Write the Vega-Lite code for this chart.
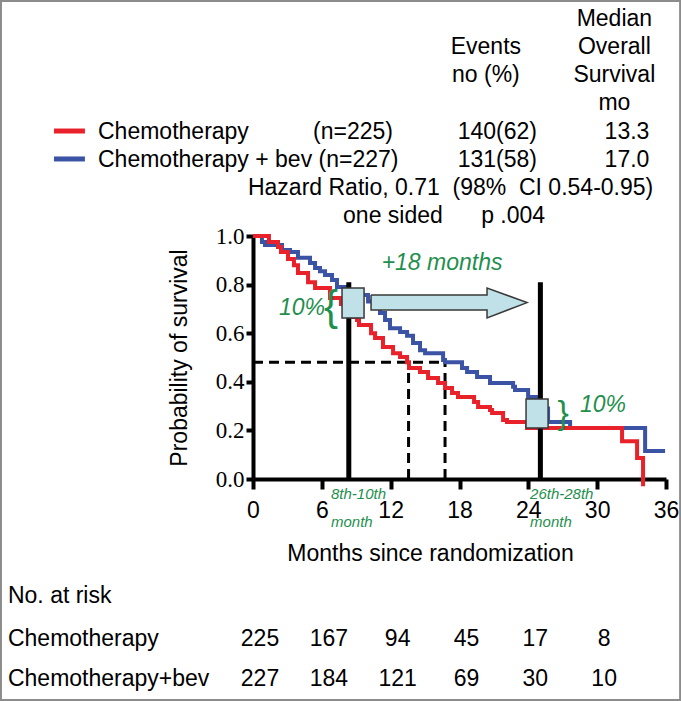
{
  "$schema": "https://vega.github.io/schema/vega-lite/v6.json",
  "width": 413,
  "height": 243,
  "autosize": {"type": "none"},
  "padding": {"left": 253, "top": 236, "right": 15, "bottom": 222},
  "background": "white",
  "config": {
    "view": {"stroke": null},
    "axis": {"domainColor": "black", "domainWidth": 4, "tickColor": "black", "tickWidth": 4, "grid": false, "labelColor": "black", "titleColor": "black", "titleFont": "Liberation Sans", "titleFontSize": 23, "titleFontWeight": "normal", "labelFontSize": 23, "labelFlush": false, "labelOverlap": false},
    "text": {"font": "Liberation Sans", "fontSize": 23, "color": "black", "baseline": "alphabetic"}
  },
  "datasets": {
    "km": [
      {"arm": "Chemotherapy", "month": 0, "surv": 1.0},
      {"arm": "Chemotherapy", "month": 1.39, "surv": 0.975},
      {"arm": "Chemotherapy", "month": 2.18, "surv": 0.955},
      {"arm": "Chemotherapy", "month": 2.44, "surv": 0.934},
      {"arm": "Chemotherapy", "month": 3.05, "surv": 0.905},
      {"arm": "Chemotherapy", "month": 3.57, "surv": 0.88},
      {"arm": "Chemotherapy", "month": 3.92, "surv": 0.848},
      {"arm": "Chemotherapy", "month": 4.8, "surv": 0.81},
      {"arm": "Chemotherapy", "month": 5.41, "surv": 0.786},
      {"arm": "Chemotherapy", "month": 6.71, "surv": 0.745},
      {"arm": "Chemotherapy", "month": 7.67, "surv": 0.72},
      {"arm": "Chemotherapy", "month": 8.63, "surv": 0.667},
      {"arm": "Chemotherapy", "month": 9.07, "surv": 0.654},
      {"arm": "Chemotherapy", "month": 9.24, "surv": 0.634},
      {"arm": "Chemotherapy", "month": 10.29, "surv": 0.6},
      {"arm": "Chemotherapy", "month": 10.64, "surv": 0.58},
      {"arm": "Chemotherapy", "month": 11.33, "surv": 0.543},
      {"arm": "Chemotherapy", "month": 12.21, "surv": 0.518},
      {"arm": "Chemotherapy", "month": 12.82, "surv": 0.502},
      {"arm": "Chemotherapy", "month": 13.43, "surv": 0.48},
      {"arm": "Chemotherapy", "month": 13.6, "surv": 0.457},
      {"arm": "Chemotherapy", "month": 14.56, "surv": 0.44},
      {"arm": "Chemotherapy", "month": 15.26, "surv": 0.416},
      {"arm": "Chemotherapy", "month": 16.13, "surv": 0.395},
      {"arm": "Chemotherapy", "month": 16.74, "surv": 0.374},
      {"arm": "Chemotherapy", "month": 17.35, "surv": 0.354},
      {"arm": "Chemotherapy", "month": 17.87, "surv": 0.337},
      {"arm": "Chemotherapy", "month": 19.27, "surv": 0.317},
      {"arm": "Chemotherapy", "month": 19.62, "surv": 0.296},
      {"arm": "Chemotherapy", "month": 20.66, "surv": 0.284},
      {"arm": "Chemotherapy", "month": 20.84, "surv": 0.272},
      {"arm": "Chemotherapy", "month": 21.8, "surv": 0.243},
      {"arm": "Chemotherapy", "month": 22.14, "surv": 0.235},
      {"arm": "Chemotherapy", "month": 23.89, "surv": 0.21},
      {"arm": "Chemotherapy", "month": 32.17, "surv": 0.155},
      {"arm": "Chemotherapy", "month": 33.48, "surv": 0.086},
      {"arm": "Chemotherapy", "month": 34.0, "surv": -0.03},
      {"arm": "Chemotherapy + bev", "month": 0, "surv": 1.0},
      {"arm": "Chemotherapy + bev", "month": 0.78, "surv": 0.975},
      {"arm": "Chemotherapy + bev", "month": 1.05, "surv": 0.963},
      {"arm": "Chemotherapy + bev", "month": 2.53, "surv": 0.942},
      {"arm": "Chemotherapy + bev", "month": 3.23, "surv": 0.934},
      {"arm": "Chemotherapy + bev", "month": 3.92, "surv": 0.91},
      {"arm": "Chemotherapy + bev", "month": 4.97, "surv": 0.889},
      {"arm": "Chemotherapy + bev", "month": 5.41, "surv": 0.868},
      {"arm": "Chemotherapy + bev", "month": 5.84, "surv": 0.855},
      {"arm": "Chemotherapy + bev", "month": 6.28, "surv": 0.84},
      {"arm": "Chemotherapy + bev", "month": 6.89, "surv": 0.819},
      {"arm": "Chemotherapy + bev", "month": 7.32, "surv": 0.79},
      {"arm": "Chemotherapy + bev", "month": 8.02, "surv": 0.775},
      {"arm": "Chemotherapy + bev", "month": 9.33, "surv": 0.757},
      {"arm": "Chemotherapy + bev", "month": 10.03, "surv": 0.73},
      {"arm": "Chemotherapy + bev", "month": 10.46, "surv": 0.704},
      {"arm": "Chemotherapy + bev", "month": 11.07, "surv": 0.683},
      {"arm": "Chemotherapy + bev", "month": 11.51, "surv": 0.654},
      {"arm": "Chemotherapy + bev", "month": 11.94, "surv": 0.62},
      {"arm": "Chemotherapy + bev", "month": 12.82, "surv": 0.605},
      {"arm": "Chemotherapy + bev", "month": 13.43, "surv": 0.59},
      {"arm": "Chemotherapy + bev", "month": 13.95, "surv": 0.56},
      {"arm": "Chemotherapy + bev", "month": 14.56, "surv": 0.53},
      {"arm": "Chemotherapy + bev", "month": 15.0, "surv": 0.518},
      {"arm": "Chemotherapy + bev", "month": 16.57, "surv": 0.49},
      {"arm": "Chemotherapy + bev", "month": 16.74, "surv": 0.48},
      {"arm": "Chemotherapy + bev", "month": 18.22, "surv": 0.457},
      {"arm": "Chemotherapy + bev", "month": 18.66, "surv": 0.44},
      {"arm": "Chemotherapy + bev", "month": 19.53, "surv": 0.42},
      {"arm": "Chemotherapy + bev", "month": 20.66, "surv": 0.395},
      {"arm": "Chemotherapy + bev", "month": 22.67, "surv": 0.38},
      {"arm": "Chemotherapy + bev", "month": 22.84, "surv": 0.366},
      {"arm": "Chemotherapy + bev", "month": 23.98, "surv": 0.337},
      {"arm": "Chemotherapy + bev", "month": 25.02, "surv": 0.29},
      {"arm": "Chemotherapy + bev", "month": 25.72, "surv": 0.235},
      {"arm": "Chemotherapy + bev", "month": 27.64, "surv": 0.21},
      {"arm": "Chemotherapy + bev", "month": 34.18, "surv": 0.115},
      {"arm": "Chemotherapy + bev", "month": 35.92, "surv": 0.115}
    ],
    "risk": [
      {"arm": "Chemotherapy", "month": 0, "n": 225},
      {"arm": "Chemotherapy", "month": 6, "n": 167},
      {"arm": "Chemotherapy", "month": 12, "n": 94},
      {"arm": "Chemotherapy", "month": 18, "n": 45},
      {"arm": "Chemotherapy", "month": 24, "n": 17},
      {"arm": "Chemotherapy", "month": 30, "n": 8},
      {"arm": "Chemotherapy + bev", "month": 0, "n": 227},
      {"arm": "Chemotherapy + bev", "month": 6, "n": 184},
      {"arm": "Chemotherapy + bev", "month": 12, "n": 121},
      {"arm": "Chemotherapy + bev", "month": 18, "n": 69},
      {"arm": "Chemotherapy + bev", "month": 24, "n": 30},
      {"arm": "Chemotherapy + bev", "month": 30, "n": 10}
    ],
    "summary": [
      {"arm": "Chemotherapy", "label": "Chemotherapy", "n": "(n=225)", "events": "140(62)", "median": "13.3"},
      {"arm": "Chemotherapy + bev", "label": "Chemotherapy + bev (n=227)", "n": "(n=227)", "events": "131(58)", "median": "17.0"}
    ],
    "arrow": [
      {"i": 1, "month": 10.29, "prob": 0.757},
      {"i": 2, "month": 20.4, "prob": 0.757},
      {"i": 3, "month": 20.4, "prob": 0.786},
      {"i": 4, "month": 23.89, "prob": 0.726},
      {"i": 5, "month": 20.4, "prob": 0.663},
      {"i": 6, "month": 20.4, "prob": 0.695},
      {"i": 7, "month": 10.29, "prob": 0.695},
      {"i": 8, "month": 10.29, "prob": 0.757}
    ]
  },
  "layer": [
    {"data": {"values": [{}]}, "mark": {"type": "rect", "filled": false, "stroke": "#8c8c8c", "strokeWidth": 2},
     "encoding": {"x": {"datum": -21.97}, "x2": {"datum": 37.23}, "y": {"datum": 1.967}, "y2": {"datum": -0.909}}},
    {"data": {"values": [{}]}, "mark": {"type": "rule", "color": "black", "strokeWidth": 3, "strokeDash": [10, 6]},
     "encoding": {"x": {"datum": 0}, "x2": {"datum": 16.74}, "y": {"datum": 0.48}}},
    {"data": {"values": [{}]}, "mark": {"type": "rule", "color": "black", "strokeWidth": 3, "strokeDash": [10, 6]},
     "encoding": {"x": {"datum": 13.56}, "y": {"datum": 0}, "y2": {"datum": 0.48}}},
    {"data": {"values": [{}]}, "mark": {"type": "rule", "color": "black", "strokeWidth": 3, "strokeDash": [10, 6]},
     "encoding": {"x": {"datum": 16.74}, "y": {"datum": 0}, "y2": {"datum": 0.48}}},
    {"data": {"name": "km"}, "transform": [{"filter": "datum.arm === 'Chemotherapy + bev'"}],
     "mark": {"type": "line", "interpolate": "step-after", "strokeWidth": 4},
     "encoding": {
       "x": {"field": "month", "type": "quantitative", "title": "Months since randomization", "scale": {"domain": [0, 36], "nice": false},
             "axis": {"values": [0, 6, 12, 18, 24, 30, 36], "tickSize": 10, "labelPadding": 10, "labelFont": "Liberation Sans", "titleX": 177, "titlePadding": 20}},
       "y": {"field": "surv", "type": "quantitative", "title": "Probability of survival", "scale": {"domain": [0, 1], "nice": false},
             "axis": {"values": [0, 0.2, 0.4, 0.6, 0.8, 1], "format": ".1f", "tickSize": 7, "labelPadding": 2, "labelFont": "Liberation Serif", "titlePadding": 24}},
       "color": {"field": "arm", "type": "nominal", "scale": {"domain": ["Chemotherapy", "Chemotherapy + bev"], "range": ["#e8212b", "#3a53a4"]}, "legend": null}
     }},
    {"data": {"name": "km"}, "transform": [{"filter": "datum.arm === 'Chemotherapy'"}],
     "mark": {"type": "line", "interpolate": "step-after", "strokeWidth": 4},
     "encoding": {
       "x": {"field": "month", "type": "quantitative", "title": "Months since randomization"},
       "y": {"field": "surv", "type": "quantitative", "title": "Probability of survival"},
       "color": {"field": "arm", "type": "nominal", "legend": null}
     }},
    {"data": {"values": [{}]}, "mark": {"type": "rule", "color": "black", "strokeWidth": 5},
     "encoding": {"x": {"datum": 8.35}, "y": {"datum": 0}, "y2": {"datum": 0.81}}},
    {"data": {"values": [{}]}, "mark": {"type": "rule", "color": "black", "strokeWidth": 5},
     "encoding": {"x": {"datum": 25.05}, "y": {"datum": 0}, "y2": {"datum": 0.81}}},
    {"data": {"values": [{}]}, "mark": {"type": "rect", "fill": "#bfe1e7", "stroke": "#3a3a3a", "strokeWidth": 1.5},
     "encoding": {"x": {"datum": 7.76}, "x2": {"datum": 9.68}, "y": {"datum": 0.786}, "y2": {"datum": 0.663}}},
    {"data": {"values": [{}]}, "mark": {"type": "rect", "fill": "#bfe1e7", "stroke": "#3a3a3a", "strokeWidth": 1.5},
     "encoding": {"x": {"datum": 23.8}, "x2": {"datum": 25.72}, "y": {"datum": 0.329}, "y2": {"datum": 0.21}}},
    {"data": {"name": "arrow"}, "mark": {"type": "line", "fill": "#bfe1e7", "stroke": "#3a3a3a", "strokeWidth": 1.5, "interpolate": "linear"},
     "encoding": {"x": {"field": "month", "type": "quantitative"}, "y": {"field": "prob", "type": "quantitative"}, "order": {"field": "i", "type": "quantitative"}}},
    {"data": {"values": [{}]}, "mark": {"type": "text", "text": "+18 months", "fontStyle": "italic", "color": "#1f8f4e", "align": "center"},
     "encoding": {"x": {"datum": 16.48}, "y": {"datum": 0.86}}},
    {"data": {"values": [{}]}, "mark": {"type": "text", "text": "10%", "fontStyle": "italic", "color": "#1f8f4e", "align": "center"},
     "encoding": {"x": {"datum": 4.27}, "y": {"datum": 0.675}}},
    {"data": {"values": [{}]}, "mark": {"type": "text", "text": "{", "fontSize": 42, "color": "#1f8f4e", "align": "center", "baseline": "middle"},
     "encoding": {"x": {"datum": 6.8}, "y": {"datum": 0.708}}},
    {"data": {"values": [{}]}, "mark": {"type": "text", "text": "}", "fontSize": 34, "color": "#1f8f4e", "align": "center", "baseline": "middle"},
     "encoding": {"x": {"datum": 27.03}, "y": {"datum": 0.267}}},
    {"data": {"values": [{}]}, "mark": {"type": "text", "text": "10%", "fontStyle": "italic", "color": "#1f8f4e", "align": "center"},
     "encoding": {"x": {"datum": 30.51}, "y": {"datum": 0.276}}},
    {"data": {"values": [{}]}, "mark": {"type": "text", "text": "8th-10th", "fontSize": 15, "fontStyle": "italic", "color": "#1f8f4e", "align": "left"},
     "encoding": {"x": {"datum": 6.8}, "y": {"datum": -0.082}}},
    {"data": {"values": [{}]}, "mark": {"type": "text", "text": "month", "fontSize": 15, "fontStyle": "italic", "color": "#1f8f4e", "align": "left"},
     "encoding": {"x": {"datum": 6.8}, "y": {"datum": -0.198}}},
    {"data": {"values": [{}]}, "mark": {"type": "text", "text": "26th-28th", "fontSize": 15, "fontStyle": "italic", "color": "#1f8f4e", "align": "left"},
     "encoding": {"x": {"datum": 24.15}, "y": {"datum": -0.082}}},
    {"data": {"values": [{}]}, "mark": {"type": "text", "text": "month", "fontSize": 15, "fontStyle": "italic", "color": "#1f8f4e", "align": "left"},
     "encoding": {"x": {"datum": 24.15}, "y": {"datum": -0.198}}},
    {"data": {"values": [{}]}, "mark": {"type": "text", "text": "Median", "align": "center"},
     "encoding": {"x": {"datum": 31.5}, "y": {"datum": 1.864}}},
    {"data": {"values": [{}]}, "mark": {"type": "text", "text": "Events", "align": "center"},
     "encoding": {"x": {"datum": 20.3}, "y": {"datum": 1.749}}},
    {"data": {"values": [{}]}, "mark": {"type": "text", "text": "Overall", "align": "center"},
     "encoding": {"x": {"datum": 31.5}, "y": {"datum": 1.749}}},
    {"data": {"values": [{}]}, "mark": {"type": "text", "text": "no (%)", "align": "center"},
     "encoding": {"x": {"datum": 20.3}, "y": {"datum": 1.634}}},
    {"data": {"values": [{}]}, "mark": {"type": "text", "text": "Survival", "align": "center"},
     "encoding": {"x": {"datum": 31.5}, "y": {"datum": 1.634}}},
    {"data": {"values": [{}]}, "mark": {"type": "text", "text": "mo", "align": "center"},
     "encoding": {"x": {"datum": 31.5}, "y": {"datum": 1.519}}},
    {"data": {"name": "summary"}, "transform": [{"filter": "datum.arm === 'Chemotherapy'"}],
     "layer": [
       {"mark": {"type": "rule", "strokeWidth": 5}, "encoding": {"x": {"datum": -17.35}, "x2": {"datum": -14.65}, "y": {"datum": 1.432}, "color": {"field": "arm", "type": "nominal", "legend": null}}},
       {"mark": {"type": "text", "align": "left"}, "encoding": {"x": {"datum": -13.51}, "y": {"datum": 1.399}, "text": {"field": "label"}}},
       {"mark": {"type": "text", "align": "left"}, "encoding": {"x": {"datum": 5.23}, "y": {"datum": 1.399}, "text": {"field": "n"}}},
       {"mark": {"type": "text", "align": "center"}, "encoding": {"x": {"datum": 21.3}, "y": {"datum": 1.399}, "text": {"field": "events"}}},
       {"mark": {"type": "text", "align": "center"}, "encoding": {"x": {"datum": 32.6}, "y": {"datum": 1.399}, "text": {"field": "median"}}}
     ]},
    {"data": {"name": "summary"}, "transform": [{"filter": "datum.arm === 'Chemotherapy + bev'"}],
     "layer": [
       {"mark": {"type": "rule", "strokeWidth": 5}, "encoding": {"x": {"datum": -17.35}, "x2": {"datum": -14.65}, "y": {"datum": 1.317}, "color": {"field": "arm", "type": "nominal", "legend": null}}},
       {"mark": {"type": "text", "align": "left"}, "encoding": {"x": {"datum": -13.51}, "y": {"datum": 1.284}, "text": {"field": "label"}}},
       {"mark": {"type": "text", "align": "center"}, "encoding": {"x": {"datum": 21.3}, "y": {"datum": 1.284}, "text": {"field": "events"}}},
       {"mark": {"type": "text", "align": "center"}, "encoding": {"x": {"datum": 32.6}, "y": {"datum": 1.284}, "text": {"field": "median"}}}
     ]},
    {"data": {"values": [{}]}, "mark": {"type": "text", "text": "Hazard Ratio, 0.71\u00a0\u00a0(98%\u00a0\u00a0CI 0.54-0.95)", "align": "left"},
     "encoding": {"x": {"datum": -0.44}, "y": {"datum": 1.169}}},
    {"data": {"values": [{}]}, "mark": {"type": "text", "text": "one sided\u00a0\u00a0\u00a0\u00a0\u00a0\u00a0p\u00a0.004", "align": "left"},
     "encoding": {"x": {"datum": 7.85}, "y": {"datum": 1.053}}},
    {"data": {"values": [{}]}, "mark": {"type": "text", "text": "No. at risk", "align": "left"},
     "encoding": {"x": {"datum": -21.36}, "y": {"datum": -0.51}}},
    {"data": {"values": [{}]}, "mark": {"type": "text", "text": "Chemotherapy", "align": "left"},
     "encoding": {"x": {"datum": -21.36}, "y": {"datum": -0.687}}},
    {"data": {"values": [{}]}, "mark": {"type": "text", "text": "Chemotherapy+bev", "align": "left"},
     "encoding": {"x": {"datum": -21.36}, "y": {"datum": -0.852}}},
    {"data": {"name": "risk"}, "transform": [{"filter": "datum.arm === 'Chemotherapy'"}],
     "mark": {"type": "text", "align": "center", "dx": 7},
     "encoding": {"x": {"field": "month", "type": "quantitative"}, "y": {"datum": -0.687}, "text": {"field": "n", "type": "quantitative"}}},
    {"data": {"name": "risk"}, "transform": [{"filter": "datum.arm === 'Chemotherapy + bev'"}],
     "mark": {"type": "text", "align": "center", "dx": 7},
     "encoding": {"x": {"field": "month", "type": "quantitative"}, "y": {"datum": -0.852}, "text": {"field": "n", "type": "quantitative"}}}
  ]
}
